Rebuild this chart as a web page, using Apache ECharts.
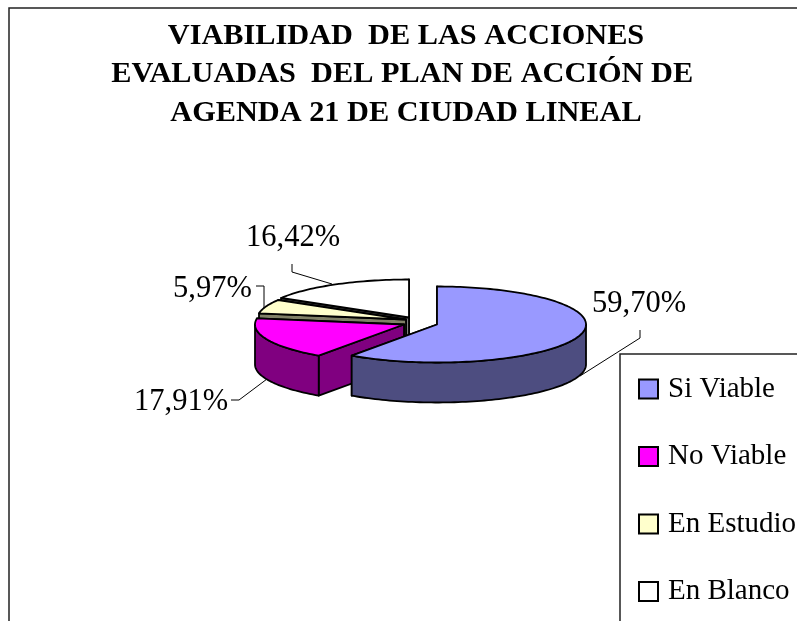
<!DOCTYPE html>
<html><head><meta charset="utf-8">
<style>html,body{margin:0;padding:0;background:#fff}#c{width:797px;height:621px}</style>
<script src="https://cdn.jsdelivr.net/npm/echarts@6/dist/echarts.min.js"></script>
</head><body><div id="c"></div>
<script>
const categories = ['Si Viable', 'No Viable', 'En Estudio', 'En Blanco'];
const values = [59.70, 17.91, 5.97, 16.42];
const valueLabels = ['59,70%', '17,91%', '5,97%', '16,42%'];
const topColors = ['#9999ff', '#ff00ff', '#ffffcc', '#ffffff'];
const sideColors = ['#4d4d80', '#800080', '#808066', '#808080'];
const titleText = 'VIABILIDAD  DE LAS ACCIONES\nEVALUADAS  DEL PLAN DE ACCIÓN DE \nAGENDA 21 DE CIUDAD LINEAL';

const RX = 149, RY = 38, DEPTH = 40;
const centers = [[437,324.5],[404,324.5],[406,319.5],[409,317.5]];
const leaders = [
  [[580,376],[640,338],[640,330]],
  [[267,379],[239,400],[231,400]],
  [[264,308],[264,286],[256,286]],
  [[332,284],[292,272],[292,264]]
];
const labelPos = [[592,303.5],[134,402],[173,288.5],[246,238]];
const total = values.reduce((a,b)=>a+b,0);
const D2R = Math.PI/180;
function sliceAngles(i){
  let s = 0; for(let k=0;k<i;k++) s += values[k];
  return [s/total*360, (s+values[i])/total*360];
}
function rim(c,a,dz){ return [c[0]+RX*Math.sin(a*D2R), c[1]-RY*Math.cos(a*D2R)+(dz||0)]; }
function arcPts(c,a0,a1,dz){ const p=[]; const n=Math.max(2,Math.ceil(Math.abs(a1-a0)/1.5));
  for(let j=0;j<=n;j++) p.push(rim(c,a0+(a1-a0)*j/n,dz)); return p; }
function poly(points,fill){ return {type:'polygon',shape:{points},style:{fill,stroke:'#000',lineWidth:1.8,lineJoin:'round'}}; }
function makeRender(i){
  return function(){
    const c = centers[i], [a0,a1] = sliceAngles(i);
    const kids = [];
    const side = sideColors[i], top = topColors[i];
    const apexLow = [c[0],c[1]+DEPTH];
    kids.push(poly([c,rim(c,a1),rim(c,a1,DEPTH),apexLow],side));
    kids.push(poly([c,rim(c,a0),rim(c,a0,DEPTH),apexLow],side));
    const w0=Math.max(a0,90), w1=Math.min(a1,270);
    if(w1>w0){ kids.push(poly(arcPts(c,w0,w1,0).concat(arcPts(c,w1,w0,DEPTH)),side)); }
    kids.push(poly([c].concat(arcPts(c,a0,a1,0)),top));
    kids.push({type:'polyline',shape:{points:leaders[i]},style:{fill:null,stroke:'#000',lineWidth:1}});
    kids.push({type:'text',x:labelPos[i][0],y:labelPos[i][1],style:{text:valueLabels[i],fontFamily:'Liberation Serif',fontSize:30.5,fill:'#000',textAlign:'left',textVerticalAlign:'middle'}});
    return {type:'group',children:kids};
  };
}
const series = categories.map((name,i)=>({
  name, type:'custom', coordinateSystem:'none', z:10-i, silent:true, animation:false,
  itemStyle:{color:topColors[i],borderColor:'#000',borderWidth:2},
  data:[values[i]], renderItem:makeRender(i)
}));
const chart = echarts.init(document.getElementById('c'),null,{renderer:'canvas'});
chart.setOption({
  animation:false, backgroundColor:'#fff',
  title:{text:titleText,left:406,top:17,textAlign:'center',padding:0,
    textStyle:{fontFamily:'Liberation Serif',fontWeight:'bold',fontSize:30.3,lineHeight:38.3,color:'#000'}},
  graphic:[
    {type:'rect',z:0,shape:{x:9,y:8,width:900,height:800},style:{fill:'#fff',stroke:'#222',lineWidth:1.5}},
    {type:'rect',z:1,shape:{x:620,y:354,width:300,height:400},style:{fill:'#fff',stroke:'#222',lineWidth:1.5}}
  ],
  legend:{orient:'vertical',left:633,top:369.5,itemWidth:19,itemHeight:19,itemGap:38.5,z:20,
    data:categories,selectedMode:false,icon:'rect',
    textStyle:{fontFamily:'Liberation Serif',fontSize:29,color:'#000',padding:[0,0,0,5]}},
  series
});
</script></body></html>
